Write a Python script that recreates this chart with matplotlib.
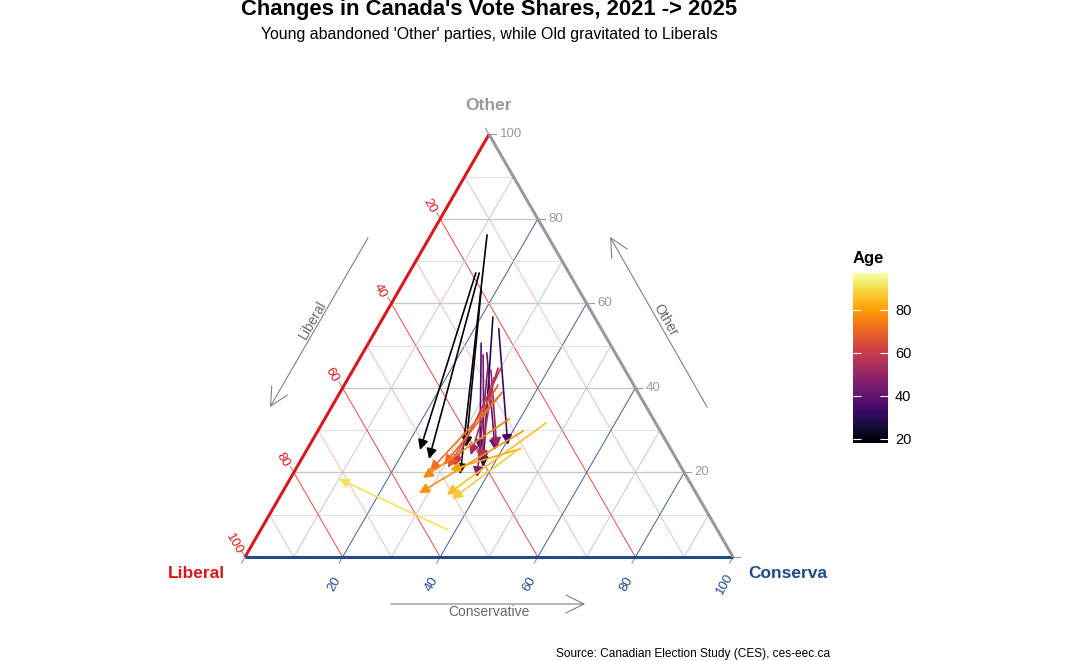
import numpy as np
import matplotlib
matplotlib.use('Agg')
import matplotlib.pyplot as plt
from matplotlib import colors, cm

plt.rcParams['font.family'] = ['Liberation Sans', 'DejaVu Sans']

# Vote shares (%) by age, 2021 start -> 2025 end
ages = [18, 19, 20, 22, 28, 33, 36, 40, 44, 47, 50, 53, 56, 59, 66, 70, 72, 76, 78, 81, 85, 87, 91]
lib_2021 = [12.3, 19.1, 18.4, 20.0, 20.8, 21.0, 26.3, 26.3, 27.3, 27.5, 27.5, 25.8, 27.8, 25.2, 27.8, 27.8, 28.6, 29.5, 28.1, 30.8, 22.5, 30.7, 55.2]
con_2021 = [11.5, 13.7, 14.4, 16.8, 22.4, 25.0, 23.1, 25.4, 24.9, 27.1, 28.3, 29.5, 29.8, 30.1, 31.5, 33.2, 33.1, 37.8, 42.1, 43.6, 45.8, 43.5, 38.4]
oth_2021 = [76.2, 67.2, 67.2, 63.2, 56.8, 54.0, 50.6, 48.3, 47.8, 45.4, 44.2, 44.7, 42.4, 44.7, 40.7, 39.0, 38.3, 32.7, 29.8, 25.6, 31.7, 25.8, 6.4]
lib_2025 = [46.1, 51.5, 50.7, 41.7, 40.6, 32.9, 39.2, 36.1, 39.8, 43.0, 35.5, 41.7, 40.3, 46.4, 47.9, 48.3, 51.9, 54.2, 56.8, 47.7, 51.3, 50.7, 71.5]
con_2025 = [34.3, 23.2, 26.1, 32.3, 38.1, 40.6, 35.5, 38.6, 37.7, 38.1, 38.7, 34.2, 36.7, 32.0, 31.0, 29.9, 27.7, 27.1, 28.1, 31.7, 34.0, 35.6, 10.0]
oth_2025 = [19.6, 25.3, 23.2, 26.0, 21.3, 26.5, 25.3, 25.3, 22.5, 18.9, 25.8, 24.1, 23.0, 21.6, 21.1, 21.8, 20.4, 18.7, 15.1, 20.6, 14.7, 13.7, 18.5]

age_limits = (18, 97)
tick_values = [20, 40, 60, 80, 100]

LIB_COL = '#d7191c'
CON_COL = '#1f4b8a'
OTH_COL = '#999999'

S = np.sqrt(3) / 2


def to_xy(lib, con, oth):
    # ternary -> cartesian, Liberal bottom-left, Conservative bottom-right, Other top
    total = lib + con + oth
    c = con / total
    o = oth / total
    return c + o / 2, o * S


fig = plt.figure(figsize=(10.69, 6.61), dpi=100)
ax = fig.add_axes([0, 0, 1, 1])
ax.set_xlim(-245 / 488, (1069 - 245) / 488)
ax.set_ylim(-(661 - 557) / 488, 557 / 488)
ax.set_aspect('equal')
ax.axis('off')

# Grid lines
for v in range(10, 100, 10):
    f = v / 100
    major = v % 20 == 0
    # Other (horizontal)
    ax.plot([f / 2, 1 - f / 2], [f * S, f * S], color='#c8c8c8' if major else '#e0e0e0',
            lw=1.0 if major else 0.7, zorder=1)
    # Liberal
    ax.plot([(1 - f) / 2, 1 - f], [(1 - f) * S, 0], color='#e8474a' if major else '#f5b0b0',
            lw=0.7 if major else 0.6, zorder=1)
    # Conservative
    ax.plot([f, f + (1 - f) / 2], [0, (1 - f) * S], color='#3d5f99' if major else '#b3c1dc',
            lw=0.7 if major else 0.6, zorder=1)

# Triangle edges
ax.plot([0, 0.5], [0, S], color=LIB_COL, lw=2.2, zorder=3, solid_capstyle='butt')
ax.plot([0, 1], [0, 0], color=CON_COL, lw=2.2, zorder=3, solid_capstyle='butt')
ax.plot([1, 0.5], [0, S], color=OTH_COL, lw=2.2, zorder=3, solid_capstyle='butt')

# Ticks and tick labels
tl = 7 / 488
for v in [0] + tick_values:
    f = v / 100
    # Other ticks on right edge
    px, py = 1 - f / 2, f * S
    ax.plot([px, px + tl], [py, py], color=OTH_COL, lw=0.8, zorder=2)
    # Liberal ticks on left edge
    lx, ly = (1 - f) / 2, (1 - f) * S
    ax.plot([lx, lx - 0.5 * tl], [ly, ly + S * tl], color=OTH_COL, lw=0.8, zorder=2)
    # Conservative ticks on bottom edge
    cx, cy = f, 0
    ax.plot([cx, cx - 0.5 * tl], [cy, cy - S * tl], color=OTH_COL, lw=0.8, zorder=2)
    if v == 0:
        continue
    ax.text(px + 10.5 / 488, py, str(v), color=OTH_COL, fontsize=9.5, ha='left', va='center')
    ax.text(lx - 11 / 488, ly + 13 / 488, str(v), color=LIB_COL, fontsize=9.5, ha='center',
            va='center', rotation=-60, rotation_mode='anchor')
    ax.text(cx - 8.5 / 488, cy - 27 / 488, str(v), color=CON_COL, fontsize=9.5, ha='center',
            va='center', rotation=60, rotation_mode='anchor')

# Vertex labels
ax.text(0.5, (557 - 106) / 488, 'Other', color=OTH_COL, fontsize=12.5, fontweight='bold',
        ha='center', va='center')
ax.text(-20 / 488, -16 / 488, 'Liberal', color=LIB_COL, fontsize=12.5, fontweight='bold',
        ha='right', va='center')
ax.text(1 + 15 / 488, -16 / 488, 'Conserva', color=CON_COL, fontsize=12.5, fontweight='bold',
        ha='left', va='center')

# Axis direction arrows
arrow_style = dict(arrowstyle='->,head_length=1.3,head_width=0.65', color='#808080', lw=0.8,
                   shrinkA=0, shrinkB=0)
ax.annotate('', xy=(0.051, 0.307), xytext=(0.252, 0.654), arrowprops=arrow_style)
ax.text(0.139, 0.486, 'Liberal', color='#666666', fontsize=10, rotation=60,
        ha='center', va='center', rotation_mode='anchor')
ax.annotate('', xy=(0.748, 0.656), xytext=(0.947, 0.307), arrowprops=arrow_style)
ax.text(0.861, 0.486, 'Other', color='#666666', fontsize=10, rotation=-60,
        ha='center', va='center', rotation_mode='anchor')
ax.annotate('', xy=(0.697, -0.0963), xytext=(0.299, -0.0963), arrowprops=arrow_style)
ax.text(0.5, -0.1127, 'Conservative', color='#666666', fontsize=10, ha='center', va='center')

# Age arrows, 2021 -> 2025
norm = colors.Normalize(vmin=age_limits[0], vmax=age_limits[1])
cmap = plt.get_cmap('inferno')
for i, age in enumerate(ages):
    x0, y0 = to_xy(lib_2021[i], con_2021[i], oth_2021[i])
    x1, y1 = to_xy(lib_2025[i], con_2025[i], oth_2025[i])
    ax.annotate('', xy=(x1, y1), xytext=(x0, y0),
                arrowprops=dict(arrowstyle='-|>,head_length=0.6,head_width=0.3',
                                color=cmap(norm(age)), lw=1.2, shrinkA=0, shrinkB=0),
                zorder=5)

# Colour bar
cax = fig.add_axes([853 / 1069, (661 - 443) / 661, 35 / 1069, 170 / 661])
sm = cm.ScalarMappable(norm=norm, cmap=cmap)
cb = fig.colorbar(sm, cax=cax, ticks=[20, 40, 60, 80])
cb.outline.set_visible(False)
cax.tick_params(axis='y', direction='in', length=6, width=0.8, color='white', labelsize=10.5,
                left=True, right=True, pad=5)
fig.text(853 / 1069, 1 - 258 / 661, 'Age', fontsize=12, fontweight='bold', ha='left', va='center')

# Titles
fig.text(489 / 1069, 1 - 10 / 661, "Changes in Canada's Vote Shares, 2021 -> 2025",
         fontsize=15.8, fontweight='bold', ha='center', va='center')
fig.text(489 / 1069, 1 - 34 / 661, "Young abandoned 'Other' parties, while Old gravitated to Liberals",
         fontsize=11.4, ha='center', va='center')
fig.text(830 / 1069, 1 - 654 / 661, 'Source: Canadian Election Study (CES), ces-eec.ca',
         fontsize=8.6, ha='right', va='center')

fig.savefig('out.png', dpi=100)
